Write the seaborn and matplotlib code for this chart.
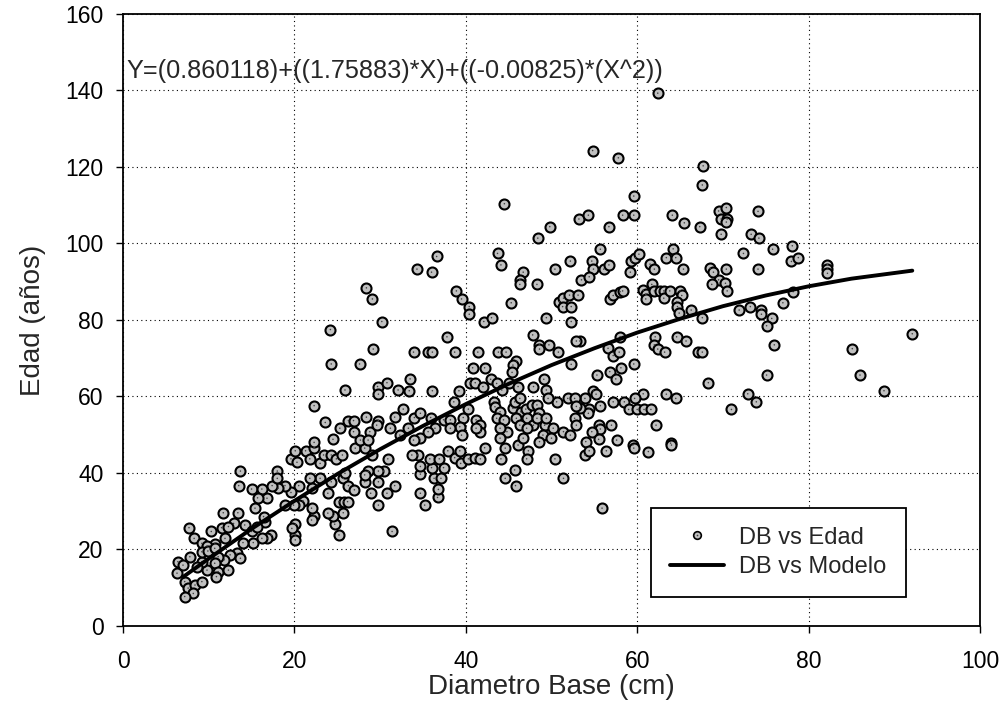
import numpy as np
import pandas as pd
import matplotlib
matplotlib.use("Agg")
import matplotlib.pyplot as plt
import seaborn as sns
from matplotlib.lines import Line2D
from matplotlib.legend_handler import HandlerTuple

# ---------------- data ----------------
db = [62.4, 54.8, 57.8, 59.6, 44.5, 53.2, 54.3, 58.3, 59.6, 64.1, 56.7, 49.8, 48.4, 55.7, 64.2, 43.7, 36.6,
      67.7, 67.6, 65.5, 67.3, 69.5, 70.4, 69.8, 70.5, 70.4, 74.1, 69.8, 73.3, 74.2, 75.8, 72.4, 78.1,
      78.0, 78.8, 82.2, 82.2, 82.2, 78.2, 77.0, 74.5, 74.5, 75.7, 75.1, 92.1, 85.1, 76.0, 75.1, 86.0, 88.8,
      54.7, 54.9, 56.1, 56.7, 53.5, 54.4, 59.2, 59.3, 59.8, 60.2, 61.5, 62.0, 63.4, 64.5, 65.4, 68.5, 68.9,
      70.4, 69.5, 70.3, 68.7, 70.5, 74.1, 56.8, 57.2, 58.0, 58.3, 60.7, 61.0, 61.0, 61.7, 62.0, 62.7, 63.1,
      63.1, 63.8, 65.0, 65.2, 64.6, 64.7, 64.9, 66.3, 67.6, 71.9, 73.2, 58.0, 56.6, 57.2, 57.9, 62.1, 62.0,
      62.4, 63.2, 64.6, 65.7, 67.1, 67.6, 53.3, 59.6, 58.1, 56.8, 57.5, 55.3, 68.3, 54.9, 55.2, 53.9, 60.7,
      59.7, 58.5, 57.2, 63.4, 64.5, 72.9, 73.9, 71.0, 59.0, 60.0, 60.8, 61.6, 55.7, 54.4, 54.3, 53.3, 57.0,
      62.2, 55.5, 55.7, 54.7, 57.6, 55.5, 59.5, 63.9, 54.0,
      47.3, 47.1, 45.7, 44.6, 45.8, 50.4, 51.4, 53.9, 54.4, 56.4, 59.6, 55.9, 44.6, 46.1, 61.3, 64.0,
      31.4, 35.2, 34.7, 36.7, 36.8, 36.3, 37.1, 37.4, 36.0, 34.7, 34.7, 34.4, 33.7, 35.8, 36.9, 37.9, 38.7,
      39.3, 39.4, 40.3, 41.1, 41.7, 42.2, 44.1, 30.8, 31.7, 29.8, 30.4, 29.8, 30.9, 29.8,
      25.2, 24.7, 25.7, 24.5, 23.9, 22.3, 22.0, 20.1, 20.1, 20.1, 19.7, 17.3, 16.8, 16.6, 25.2, 25.8, 26.2,
      22.0, 21.0, 20.5, 19.9, 18.9, 23.9, 22.0, 23.0, 21.8, 20.5, 19.6, 18.9, 18.1, 17.4, 16.8, 18.0, 18.0,
      19.6, 20.3, 20.1, 21.3, 22.3, 21.8, 23.0, 23.4, 24.3, 24.9, 25.6, 24.3, 25.7, 26.3, 27.0, 25.9, 27.1,
      28.2, 29.0, 28.6, 28.2, 28.9, 28.2,
      13.7, 13.5, 11.7, 13.4, 7.7, 15.0, 16.2, 15.7, 15.4, 16.4, 14.2, 12.9, 10.3, 11.5, 12.3, 10.7, 11.9,
      8.3, 9.2, 9.8, 15.2, 14.0, 16.2, 13.3, 13.7, 12.5, 11.8, 11.1, 10.7, 9.8, 9.2, 8.6, 7.8, 6.4, 6.3, 7.0,
      7.2, 7.6, 8.4, 9.2, 8.2, 7.2, 11.1, 12.3, 10.9, 9.2, 9.9, 10.7, 15.0, 15.6,
      28.4, 29.1, 30.2, 24.2, 29.2, 24.3, 27.6, 25.9, 29.7, 29.8, 30.8, 32.1, 22.3, 26.3, 26.9, 28.4, 29.8,
      25.3, 23.6, 24.5, 26.9, 28.8, 29.6, 31.7, 31.2, 22.3, 27.7, 28.6,
      34.3, 36.0, 44.1, 46.7, 46.3, 46.3, 48.3, 50.4, 52.2, 38.9, 39.5, 40.4, 40.4, 45.3, 42.1, 43.0, 49.4,
      50.9, 51.4, 51.3, 52.1, 52.3, 53.1, 52.3, 37.8, 33.9, 35.6, 36.1, 38.7, 41.4, 43.8, 44.7, 47.8, 48.6,
      48.6, 49.7, 50.8, 52.9, 52.3, 45.9, 45.5, 45.4, 42.2, 40.8, 42.9, 40.5, 41.1, 42.0, 33.5, 33.4, 36.1,
      39.2, 43.6, 44.2, 45.0, 46.1, 47.9, 49.1, 49.4, 50.6, 49.6, 51.9, 52.7, 52.9, 38.6, 40.3, 32.7, 34.0,
      34.7, 35.9, 37.4, 38.2, 39.7, 39.3, 38.2, 36.4, 35.6, 34.6, 33.9, 33.3, 32.3, 41.2, 41.7, 41.7, 41.2,
      39.5, 43.3, 43.4, 44.0, 43.6, 44.4, 44.8, 44.0, 44.0, 45.5, 45.7, 46.3, 46.4, 45.9, 47.0, 47.7, 48.3,
      47.1, 48.5, 47.9, 48.3, 49.2, 49.4, 50.2, 51.4, 52.2, 52.7, 52.9, 46.3, 47.1, 46.7, 49.0, 50.0, 48.6]

edad = [139.3, 124.3, 122.4, 112.4, 110.4, 106.4, 107.4, 107.4, 107.4, 107.4, 104.4, 104.4, 101.4, 98.5, 98.6, 97.4, 96.6,
        120.3, 115.3, 105.4, 104.4, 108.5, 109.4, 106.4, 106.4, 105.6, 108.4, 102.4, 102.4, 101.4, 98.5, 97.4, 99.4,
        95.3, 96.3, 94.5, 93.3, 92.2, 87.4, 84.5, 82.6, 81.5, 80.4, 78.5, 76.4, 72.5, 73.5, 65.6, 65.6, 61.5,
        95.4, 93.3, 93.3, 94.4, 90.5, 91.3, 92.5, 95.4, 96.3, 97.2, 94.6, 93.3, 96.3, 96.3, 93.3, 93.5, 92.5,
        93.3, 90.5, 89.6, 89.3, 87.6, 93.3, 85.5, 86.4, 87.4, 87.6, 87.8, 86.7, 85.5, 89.3, 87.6, 87.6, 87.6,
        85.7, 87.6, 87.6, 86.4, 84.8, 83.5, 81.8, 82.6, 80.6, 82.6, 83.5, 75.6, 72.6, 70.7, 71.6, 75.6, 73.5,
        72.4, 71.6, 75.6, 74.5, 71.6, 71.6, 74.5, 68.5, 67.5, 66.5, 64.6, 65.6, 63.6, 61.4, 60.6, 59.5, 60.7,
        59.5, 58.6, 58.6, 60.6, 59.5, 60.7, 58.6, 56.6, 56.6, 56.6, 56.6, 56.6, 57.6, 56.7, 55.6, 57.0, 52.5,
        52.5, 52.5, 51.5, 50.8, 48.6, 48.8, 47.3, 47.8, 48.2,
        45.8, 43.7, 40.8, 38.6, 36.7, 43.7, 38.6, 44.7, 45.8, 45.8, 46.5, 30.8, 46.5, 47.3, 45.6, 47.3,
        24.7, 31.6, 34.7, 33.6, 35.7, 38.6, 38.6, 41.4, 41.4, 39.7, 41.7, 44.7, 44.7, 43.7, 43.7, 45.8, 44.0,
        45.8, 42.5, 43.7, 43.9, 43.7, 46.6, 43.7, 34.7, 36.7, 31.6, 40.5, 37.7, 43.7, 40.5,
        23.8, 26.6, 29.6, 28.8, 29.5, 28.8, 27.7, 26.6, 23.8, 22.5, 25.5, 23.8, 22.9, 27.3, 32.5, 32.5, 32.5,
        30.8, 32.7, 31.5, 31.6, 31.5, 34.7, 36.0, 38.6, 38.6, 36.7, 34.9, 36.7, 36.0, 36.7, 33.4, 40.5, 38.6,
        43.7, 42.8, 45.8, 45.8, 46.6, 43.7, 42.5, 44.7, 44.7, 43.7, 44.7, 37.7, 38.6, 36.7, 35.6, 39.9, 46.5,
        46.5, 44.7, 40.4, 37.7, 34.7, 39.5,
        40.5, 36.7, 29.6, 29.6, 25.7, 35.8, 35.8, 33.5, 30.8, 28.6, 26.4, 26.8, 24.7, 25.7, 26.0, 21.4, 22.9,
        22.9, 21.6, 20.9, 21.8, 21.8, 22.9, 19.0, 17.7, 18.6, 17.3, 18.1, 16.4, 14.6, 16.8, 15.5, 18.1, 16.8, 13.8, 15.9,
        11.6, 9.9, 10.7, 11.6, 8.5, 7.7, 14.2, 14.6, 12.9, 19.4, 19.6, 20.3, 24.7, 26.0,
        88.4, 85.5, 79.6, 77.5, 72.4, 68.5, 68.5, 61.7, 62.6, 60.6, 63.6, 61.7, 57.6, 53.7, 53.7, 54.6, 53.7,
        51.7, 53.2, 48.8, 50.8, 50.8, 52.5, 54.6, 51.7, 48.0, 48.6, 48.6,
        93.3, 92.5, 94.4, 92.5, 90.5, 89.3, 89.3, 93.3, 95.4, 87.6, 85.5, 83.5, 81.5, 84.5, 79.6, 80.6, 80.6,
        84.8, 85.7, 83.5, 86.5, 83.5, 86.5, 79.6, 75.6, 71.6, 71.6, 71.6, 71.6, 71.6, 71.6, 71.6, 76.1, 73.5,
        72.4, 73.5, 71.6, 74.5, 68.4, 69.3, 68.2, 66.3, 67.5, 67.5, 64.5, 63.6, 63.6, 62.6, 64.6, 61.5, 61.5,
        61.5, 63.4, 61.7, 63.4, 62.6, 62.6, 64.5, 61.7, 58.6, 59.5, 59.5, 59.5, 57.4, 58.6, 56.7, 56.7, 54.5,
        55.6, 54.5, 53.9, 53.9, 54.5, 52.1, 51.7, 51.7, 50.8, 49.1, 48.6, 51.7, 49.9, 53.9, 52.5, 50.8, 51.7,
        49.9, 58.6, 57.3, 56.0, 54.3, 53.9, 50.8, 51.7, 49.1, 56.9, 58.6, 59.5, 56.0, 54.3, 56.7, 57.8, 57.8,
        54.3, 55.6, 52.5, 54.3, 52.5, 54.3, 51.7, 50.8, 49.9, 54.3, 52.5, 52.5, 51.7, 49.1, 49.9, 49.1, 48.2]

# model curve "DB vs Modelo"
modelo_db = [7, 10, 15, 20, 25, 30, 35, 40, 45, 50, 55, 60, 65, 70, 75, 80, 85, 92.1]
modelo_edad = [12.8, 17.6, 25.4, 32.7, 39.7, 46.2, 52.3, 58.0, 63.3, 68.2, 72.6, 76.7, 80.3, 83.6, 86.4, 88.8, 90.8, 92.9]

ecuacion = "Y=(0.860118)+((1.75883)*X)+((-0.00825)*(X^2))"
x_ticks = [0, 20, 40, 60, 80, 100]
y_ticks = [0, 20, 40, 60, 80, 100, 120, 140, 160]

# ---------------- plotting ----------------
sns.set_style("white")
plt.rcParams['font.family'] = ['Liberation Sans', 'DejaVu Sans']

fig = plt.figure(figsize=(10.05, 7.25), dpi=100)
ax = fig.add_axes([0.1224, 0.1366, 0.8527, 0.8441])

pts = pd.DataFrame({"DB": db, "Edad": edad})
mod = pd.DataFrame({"DB": modelo_db, "Modelo": modelo_edad})

sns.scatterplot(data=pts, x="DB", y="Edad", ax=ax, s=52, color="#c0c0c0",
                edgecolor="black", linewidth=1.5, zorder=3, legend=False)
sns.scatterplot(data=pts, x="DB", y="Edad", ax=ax, s=1.2, color="#404040",
                edgecolor="none", linewidth=0, zorder=4, legend=False)
sns.lineplot(data=mod, x="DB", y="Modelo", ax=ax, color="black", linewidth=2.8,
             zorder=5, legend=False)

ax.set_xlim(0, 100)
ax.set_ylim(0, 160)
ax.set_xticks(x_ticks)
ax.set_yticks(y_ticks)
ax.tick_params(axis='both', labelsize=16.5, direction='out', length=5, width=1,
               left=True, bottom=True, colors='black')
ax.tick_params(axis='x', pad=12)
ax.tick_params(axis='y', pad=9)
ax.grid(True, color='black', linestyle=(0, (1, 3)), linewidth=0.8)
for sp in ax.spines.values():
    sp.set_visible(True)
    sp.set_color('black')
    sp.set_linewidth(1.3)

ax.set_xlabel("Diametro Base (cm)", fontsize=20, labelpad=1)
ax.set_ylabel("Edad (años)", fontsize=20, labelpad=14)

ax.text(0.45, 145, ecuacion, fontsize=18.2, ha='left', va='center', zorder=6)

h_pt = (Line2D([], [], linestyle='none', marker='o', markersize=5.5,
               markerfacecolor='#c0c0c0', markeredgecolor='black', markeredgewidth=1.2),
        Line2D([], [], linestyle='none', marker='o', markersize=1.2,
               markerfacecolor='#404040', markeredgecolor='none'))
h_ln = Line2D([], [], color='black', linewidth=2.8)
leg = ax.legend([h_pt, h_ln], ["DB vs Edad", "DB vs Modelo"],
                handler_map={tuple: HandlerTuple(ndivide=1, pad=0)},
                loc='upper left', bbox_to_anchor=(0.616, 0.193), fontsize=17,
                frameon=True, fancybox=False, edgecolor='black', framealpha=1,
                borderpad=0.8, handlelength=2.3, handletextpad=0.65,
                labelspacing=0.3, borderaxespad=0)
leg.get_frame().set_linewidth(1.3)
leg.set_zorder(10)

fig.savefig("out.png", dpi=100, facecolor='white')
